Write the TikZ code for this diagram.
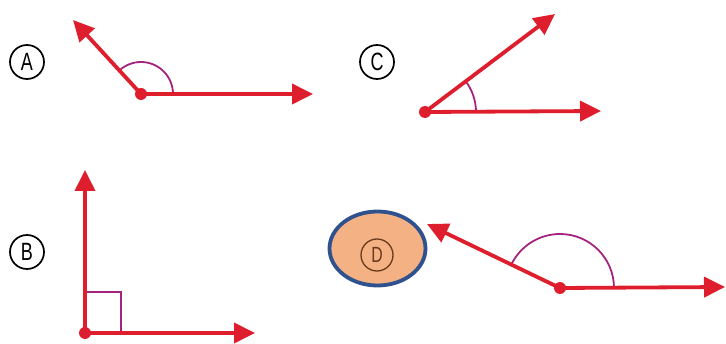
\documentclass[tikz,border=0pt]{standalone}
\usepackage{fontspec}
\setsansfont{Liberation Sans}
\usetikzlibrary{arrows.meta, positioning, shapes.geometric, calc}
\definecolor{RayRed}{RGB}{222, 30, 44}
\definecolor{ArcPurple}{RGB}{163, 36, 126}
\definecolor{Peach}{RGB}{244, 177, 131}
\definecolor{EdgeBlue}{RGB}{47, 82, 143}
\definecolor{InkBrown}{RGB}{105, 58, 28}
\newcommand{\narrowletter}[1]{\scalebox{0.72}[1]{#1}}

\begin{document}
\begin{tikzpicture}[x=1pt, y=1pt,
  ray/.style={-{Triangle[length=21pt, width=20pt]}, line width=3.8pt, RayRed},
  vertexdot/.style={circle, fill=RayRed, minimum size=12pt, inner sep=0pt},
  anglemark/.style={ArcPurple, line width=1.8pt},
  letterlabel/.style={draw, circle, line width=1.7pt, minimum size=34pt, inner sep=0pt, font=\sffamily\fontsize{25}{25}\selectfont}]
  \useasboundingbox (0,0) rectangle (726,343);

  \node[letterlabel] (labA) at (27,281) {\narrowletter{A}};
  \node[letterlabel] (labB) at (27,91) {\narrowletter{B}};
  \node[letterlabel] (labC) at (377,281) {\narrowletter{C}};
  \node[draw=EdgeBlue, fill=Peach, ellipse, line width=3.8pt, minimum width=96pt, minimum height=74pt] (labD) at (377.5,94.5) {};
  \node[draw=InkBrown, circle, line width=1.3pt, minimum size=32pt, inner sep=0pt, text=InkBrown, font=\sffamily\fontsize{22}{22}\selectfont] (labDin) at (377,88) {\narrowletter{D}};

  \node[vertexdot] (vA) at (141,249) {};
  \coordinate (tipA1) at (313,249);
  \coordinate (tipA2) at (73,323);
  \draw[anglemark] ($(vA)+(32,0)$) arc[start angle=0, end angle=132.6, radius=32];
  \draw[ray] (vA.center) -- (tipA1);
  \draw[ray] (vA.center) -- (tipA2);

  \node[vertexdot] (vB) at (85,10) {};
  \coordinate (tipB1) at (255,10);
  \coordinate (tipB2) at (85,173);
  \draw[anglemark] (vB.center) rectangle ++(36,41);
  \draw[ray] (vB.center) -- (tipB1);
  \draw[ray] (vB.center) -- (tipB2);

  \node[vertexdot] (vC) at (425,231) {};
  \coordinate (tipC1) at (601,232);
  \coordinate (tipC2) at (555,329);
  \draw[anglemark] ($(vC)+(51,0)$) arc[start angle=0, end angle=37, radius=51];
  \draw[ray] (vC.center) -- (tipC1);
  \draw[ray] (vC.center) -- (tipC2);

  \node[vertexdot] (vD) at (560,55) {};
  \coordinate (tipD1) at (725,56);
  \coordinate (tipD2) at (427,119);
  \draw[anglemark] ($(vD)+(54,0)$) arc[start angle=0, end angle=154, radius=54];
  \draw[ray] (vD.center) -- (tipD1);
  \draw[ray] (vD.center) -- (tipD2);
\end{tikzpicture}
\end{document}
